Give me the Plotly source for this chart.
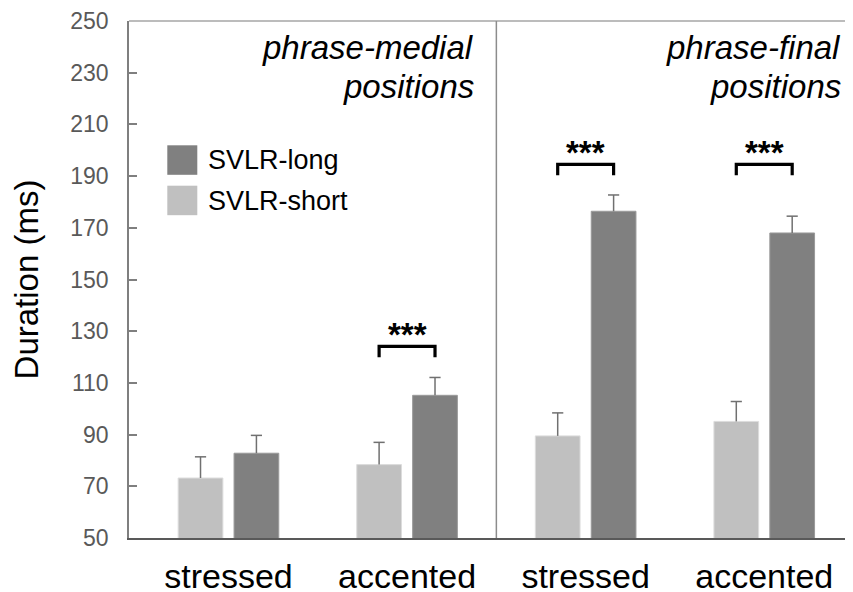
import plotly.graph_objects as go

# ---- data ----
groups = [0, 1, 2, 3]
group_labels = ["stressed", "accented", "stressed", "accented"]
short_means = [73.2, 78.4, 89.5, 95.1]
short_errs = [8.2, 8.6, 8.9, 7.7]
long_means = [82.8, 105.2, 176.4, 168.0]
long_errs = [6.9, 6.9, 6.3, 6.5]
series_names = ["SVLR-long", "SVLR-short"]
panel_titles = [["phrase-medial", "positions"], ["phrase-final", "positions"]]
sig_groups = [1, 2, 3]
sig_levels = [124.1, 194.5, 194.5]   # top of bracket (ms)
sig_labels = ["***", "***", "***"]
yticks = list(range(50, 251, 20))

# ---- style ----
FONT = "Arial, Liberation Sans, sans-serif"
C_SHORT = "#c0c0c0"
C_LONG = "#808080"
C_ERR = "#707070"
OFF = 8                      # page body margin
W, H = 853 - OFF, 592 - OFF
ML, MR, MT, MB = 129 - OFF, 0, 21 - OFF, 54
BARGAP, BARGROUPGAP = 0.374, 0.2
slot = (1 - BARGAP) / 2
PW, PH = W - ML - MR, H - MT - MB


def px2x(px):
    return (px - OFF - ML) / PW


def py2y(py):
    return (OFF + MT + PH - py) / PH


fig = go.Figure()
for means, errs, name, col, edge, sgn in [
    (short_means, short_errs, series_names[1], C_SHORT, "#dcdcdc", -1),
    (long_means, long_errs, series_names[0], C_LONG, "#9a9a9a", 1),
]:
    fig.add_trace(go.Bar(
        x=groups, y=means, name=name,
        marker=dict(color=col, line=dict(color=edge, width=1)),
        error_y=dict(type="data", array=errs, arrayminus=[0] * len(errs), symmetric=False,
                     color=C_ERR, thickness=1.5, width=0),
        showlegend=False,
    ))
    # caps of the error bars
    fig.add_trace(go.Scatter(
        x=[g + sgn * slot / 2 for g in groups],
        y=[m + e for m, e in zip(means, errs)],
        mode="markers", showlegend=False, hoverinfo="skip",
        marker=dict(symbol="line-ew", size=8, color=C_ERR,
                    line=dict(color=C_ERR, width=1.5)),
    ))

shapes = []
annotations = []
# top border
shapes.append(dict(type="line", xref="paper", yref="paper", x0=0, x1=1, y0=1, y1=1,
                   line=dict(color="#a6a6a6", width=1.5)))
# panel divider
shapes.append(dict(type="line", xref="x", yref="paper", x0=1.5, x1=1.5, y0=0, y1=1,
                   line=dict(color="#8c8c8c", width=1.5)))

# significance brackets
for g, lev, lab in zip(sig_groups, sig_levels, sig_labels):
    xa, xb = g - slot / 2, g + slot / 2
    base = lev - 4.2
    shapes.append(dict(type="path", xref="x", yref="y",
                       path=f"M {xa},{base} L {xa},{lev} L {xb},{lev} L {xb},{base}",
                       line=dict(color="black", width=3.2)))
    annotations.append(dict(x=g, y=lev, xref="x", yref="y", text=lab, showarrow=False,
                            yanchor="bottom", yshift=-9,
                            font=dict(family=FONT, size=33, color="black", weight="bold")))

# panel titles (two lines each)
for lines, right in zip(panel_titles, [476, 843]):
    for line, cy in zip(lines, [47.5, 86]):
        annotations.append(dict(x=px2x(right), y=py2y(cy), xref="paper", yref="paper",
                                text="<i>" + line + "</i>", showarrow=False,
                                xanchor="right", yanchor="middle",
                                font=dict(family=FONT, size=33, color="black")))

# manual legend
leg_items = [(series_names[0], C_LONG, 145.3), (series_names[1], C_SHORT, 185.7)]
for name, col, top in leg_items:
    shapes.append(dict(type="rect", xref="paper", yref="paper",
                       x0=px2x(167.3), x1=px2x(197.3), y0=py2y(top + 29.5), y1=py2y(top),
                       fillcolor=col, line=dict(width=0)))
    annotations.append(dict(x=px2x(206), y=py2y(top + 15), xref="paper", yref="paper",
                            text=name, showarrow=False, xanchor="left", yanchor="middle",
                            font=dict(family=FONT, size=27, color="black")))

fig.update_layout(
    width=W, height=H,
    margin=dict(l=ML, r=MR, t=MT, b=MB),
    paper_bgcolor="white", plot_bgcolor="white",
    barmode="group", bargap=BARGAP, bargroupgap=BARGROUPGAP,
    shapes=shapes, annotations=annotations,
    font=dict(family=FONT),
    xaxis=dict(range=[-0.557, 3.497], tickvals=groups, ticktext=group_labels,
               automargin=False,
               showline=True, linecolor="#595959", linewidth=2, ticks="",
               showgrid=False, zeroline=False, ticklabelstandoff=7,
               tickfont=dict(family=FONT, size=34, color="black")),
    yaxis=dict(range=[50, 250], tickvals=yticks, showline=True, linecolor="#7f7f7f",
               automargin=False,
               linewidth=1.5, ticks="inside", ticklen=8, tickcolor="#7f7f7f", tickwidth=1.5,
               showgrid=False, zeroline=False, ticklabelstandoff=14,
               tickfont=dict(family=FONT, size=23, color="#595959"),
               title=dict(text="Duration (ms)", standoff=22,
                          font=dict(family=FONT, size=33, color="black"))),
)

fig.write_html("out.html")
